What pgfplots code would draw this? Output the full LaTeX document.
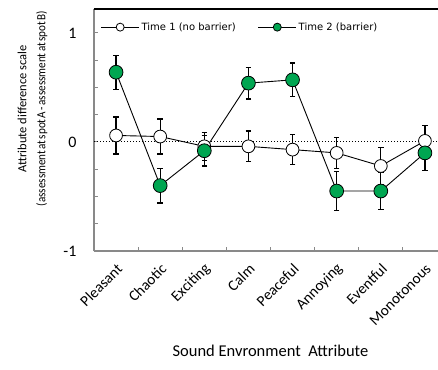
\documentclass[border=0pt]{standalone}
\usepackage{fontspec}
\setmainfont{Carlito}
\newfontfamily\legfont{DejaVu Sans}
\usepackage{graphicx}
\usepackage{pgfplots}
\usepackage{pgfplotstable}
\pgfplotsset{compat=1.18}
\definecolor{bgreen}{RGB}{0,166,81}
\definecolor{axgray}{RGB}{137,137,137}

\pgfplotstableread{
x y e
0 0.06 0.17
1 0.05 0.16
2 -0.04 0.13
3 -0.04 0.14
4 -0.07 0.14
5 -0.10 0.14
6 -0.22 0.17
7 0.01 0.14
}\timeone
\pgfplotstableread{
x y e
0 0.64 0.155
1 -0.40 0.16
2 -0.08 0.14
3 0.54 0.145
4 0.57 0.155
5 -0.45 0.18
6 -0.45 0.17
7 -0.10 0.16
}\timetwo

\begin{document}
\begin{tikzpicture}
\path[use as bounding box] (-94pt,-118pt) rectangle (344pt,251pt);
\begin{axis}[
  at={(0pt,0pt)}, anchor=south west,
  scale only axis, width=353pt, height=242pt,
  xmin=-0.5, xmax=7.5, ymin=-1, ymax=1.22,
  axis x line*=bottom, axis y line*=left,
  axis line style={axgray, line width=1.6pt},
  /pgf/number format/assume math mode=true,
  xtick={0,...,7},
  xticklabels={Pleasant,Chaotic,Exciting,Calm,Peaceful,Annoying,Eventful,Monotonous},
  major x tick style={draw=none},
  minor xtick={0.5,1.5,...,6.5},
  ytick={-1,0,1},
  minor ytick={-0.75,-0.5,-0.25,0.25,0.5,0.75},
  tick align=inside,
  major tick length=4pt, minor tick length=4pt,
  tick style={axgray, line width=1pt},
  xticklabel style={font=\fontsize{15.2}{17}\selectfont, xshift=6pt, yshift=-13pt, rotate=45, anchor=east},
  yticklabel style={font=\fontsize{16}{18}\selectfont, xshift=-14pt},
  xlabel={Sound Envronment\ \ Attribute},
  xlabel style={font=\fontsize{16.5}{18}\selectfont, at={(axis description cs:0.5,0)}, anchor=center, yshift=-100pt},
  ylabel={Attribute difference scale\\{\spaceskip=0.12em\relax\scalebox{0.89}[1]{(assessment at spot A - assessment at spot B)}}},
  ylabel style={font=\fontsize{12.5}{19}\selectfont, align=center, at={(axis description cs:-0.174,0.588)}, anchor=center},
  legend columns=2,
  legend style={font=\legfont\fontsize{10}{12}\selectfont, draw=none, fill=none,
    at={(axis description cs:0.01,0.925)}, anchor=west,
    /tikz/every even column/.append style={column sep=20pt}},
  legend image code/.code={\draw[mark repeat=2,mark phase=2,#1,mark size=4pt] plot coordinates {(0pt,0pt)(19pt,0pt)(38pt,0pt)};},
  clip=false,
]
\draw[black, line width=1.4pt] (rel axis cs:0,1) -- (rel axis cs:1,1);
\draw[black, dotted, line width=1pt] (axis cs:-0.5,0) -- (axis cs:7.5,0);
\addplot[black, line width=0.9pt, mark=*, mark size=6.4pt,
  mark options={fill=white, draw=black, line width=0.8pt},
  error bars/.cd, y dir=both, y explicit,
  error bar style={black, line width=1.2pt},
  error mark options={rotate=90, mark size=2.8pt, black, line width=1.2pt}]
  table[x=x, y=y, y error=e] {\timeone};
\addlegendentry{Time 1 (no barrier)}
\addplot[black, line width=0.9pt, mark=*, mark size=6.9pt,
  mark options={fill=bgreen, draw=black, line width=0.8pt},
  error bars/.cd, y dir=both, y explicit,
  error bar style={black, line width=1.2pt},
  error mark options={rotate=90, mark size=2.8pt, black, line width=1.2pt}]
  table[x=x, y=y, y error=e] {\timetwo};
\addlegendentry{Time 2 (barrier)}
\end{axis}
\end{tikzpicture}
\end{document}
